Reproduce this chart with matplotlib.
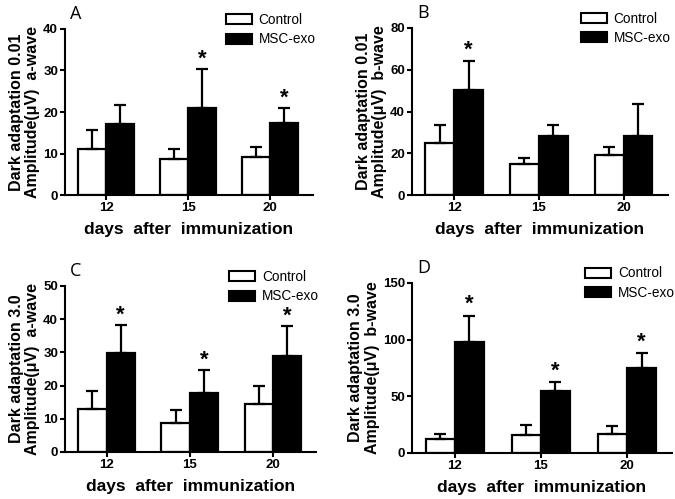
import numpy as np
import matplotlib
matplotlib.use("Agg")
import matplotlib.pyplot as plt

# données (moyenne + écart type supérieur)
days = ["12", "15", "20"]

a001_ctrl = [11.1, 8.8, 9.2]
a001_ctrl_err = [4.5, 2.3, 2.4]
a001_exo = [17.1, 20.9, 17.4]
a001_exo_err = [4.6, 9.4, 3.5]

b001_ctrl = [25.1, 14.7, 19.2]
b001_ctrl_err = [8.6, 2.9, 4.0]
b001_exo = [50.2, 28.3, 28.3]
b001_exo_err = [14.0, 5.2, 15.3]

a30_ctrl = [13.0, 8.7, 14.5]
a30_ctrl_err = [5.5, 4.0, 5.4]
a30_exo = [29.8, 17.9, 28.8]
a30_exo_err = [8.5, 6.8, 9.2]

b30_ctrl = [12.7, 15.7, 17.1]
b30_ctrl_err = [4.4, 8.8, 6.8]
b30_exo = [98.3, 54.9, 74.7]
b30_exo_err = [22.7, 7.4, 13.3]

plt.rcParams['font.family'] = ['Liberation Sans', 'DejaVu Sans']

fig = plt.figure(figsize=(6.75, 4.99), dpi=100)

panels = [
    ("A", [0.0963, 0.609, 0.3674, 0.333], a001_ctrl, a001_ctrl_err, a001_exo, a001_exo_err,
     40, 10, "Dark adaptation 0.01\nAmplitude(\u03bcV)  a-wave", [None, 30.3 + 2.5, 20.9 + 2.5]),
    ("B", [0.610, 0.609, 0.379, 0.335], b001_ctrl, b001_ctrl_err, b001_exo, b001_exo_err,
     80, 20, "Dark adaptation 0.01\nAmplitude(\u03bcV)  b-wave", [64.2 + 5, None, None]),
    ("C", [0.0963, 0.0942, 0.372, 0.3327], a30_ctrl, a30_ctrl_err, a30_exo, a30_exo_err,
     50, 10, "Dark adaptation 3.0\nAmplitude(\u03bcV)  a-wave", [38.3 + 3, 24.7 + 3, 38.0 + 3]),
    ("D", [0.610, 0.0922, 0.385, 0.3407], b30_ctrl, b30_ctrl_err, b30_exo, b30_exo_err,
     150, 50, "Dark adaptation 3.0\nAmplitude(\u03bcV)  b-wave", [121 + 10, 62.3 + 10, 88.0 + 10]),
]

x = np.arange(len(days))
w = 0.34

for lettre, pos, ctrl, ctrl_err, exo, exo_err, ymax, pas, ylab, etoiles in panels:
    ax = fig.add_axes(pos)
    ax.bar(x - w / 2, ctrl, w, color="white", edgecolor="black", linewidth=1.6,
           yerr=[np.zeros(3), ctrl_err], capsize=4.5,
           error_kw=dict(elinewidth=1.6, capthick=1.6, ecolor="black"), label="Control", zorder=2)
    ax.bar(x + w / 2, exo, w, color="black", edgecolor="black", linewidth=1.6,
           yerr=[np.zeros(3), exo_err], capsize=4.5,
           error_kw=dict(elinewidth=1.6, capthick=1.6, ecolor="black"), label="MSC-exo", zorder=2)

    for i, e in enumerate(etoiles):
        if e is not None:
            ax.text(x[i] + w / 2, e, "*", ha="center", va="center", fontsize=16, fontweight="bold")

    ax.set_xlim(-0.5, 2.52)
    ax.set_ylim(0, ymax)
    ax.set_yticks(np.arange(0, ymax + 1, pas))
    ax.set_xticks(x)
    ax.set_xticklabels(days)
    for s in ["top", "right"]:
        ax.spines[s].set_visible(False)
    for s in ["left", "bottom"]:
        ax.spines[s].set_linewidth(1.5)
    ax.tick_params(axis="both", width=1.5, length=3.5, labelsize=9.5, pad=1.5)
    for t in ax.get_xticklabels() + ax.get_yticklabels():
        t.set_fontweight("bold")

    ax.set_ylabel(ylab, fontsize=11.5, fontweight="bold", labelpad=2, linespacing=1.12)
    ax.set_xlabel("days  after  immunization", fontsize=12.5, fontweight="bold", labelpad=6)

    ax.text(0.02, 1.09, lettre, transform=ax.transAxes, fontsize=13, family="Open Sans",
            ha="left", va="center")

    leg = ax.legend(loc="upper right", bbox_to_anchor=(1.06, 1.17), frameon=False, fontsize=9.8,
                    handlelength=1.9, handleheight=0.75, labelspacing=0.4, handletextpad=0.5)
    for h in leg.legend_handles:
        h.set_linewidth(1.5)

fig.savefig("out.png", dpi=100)
